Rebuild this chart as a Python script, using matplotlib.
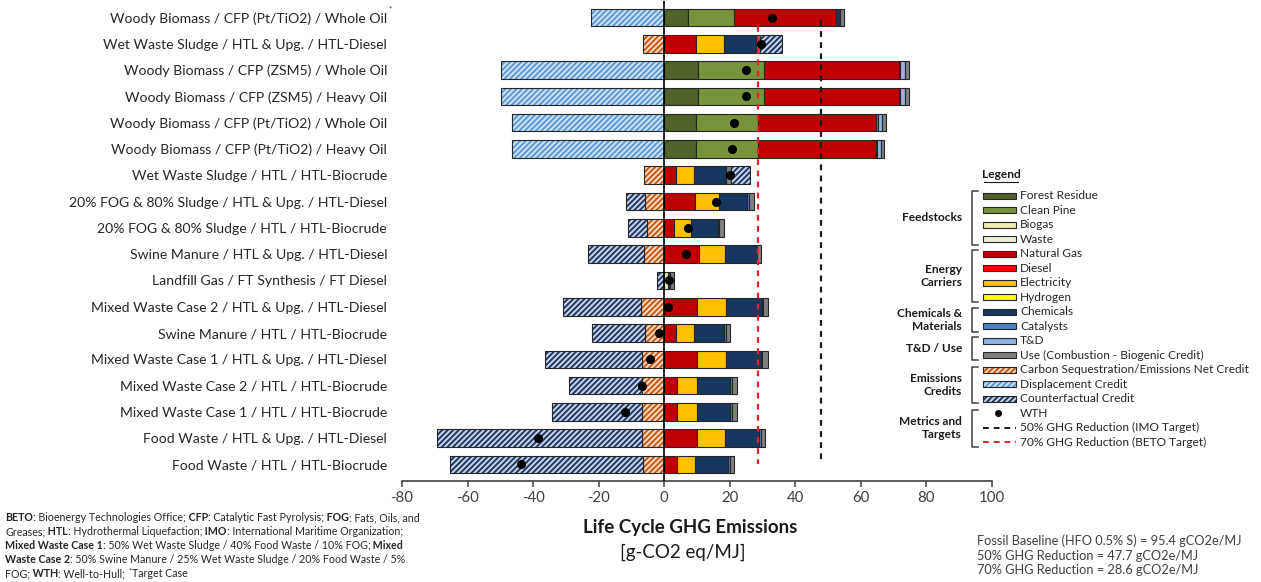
import numpy as np
import matplotlib
matplotlib.use("Agg")
import matplotlib.pyplot as plt
from matplotlib.patches import Rectangle

plt.rcParams['font.family'] = ['Lato', 'DejaVu Sans']
plt.rcParams['hatch.linewidth'] = 1.4
plt.rcParams['axes.unicode_minus'] = False

# pathways, top to bottom
labels = [
    'Woody Biomass / CFP (Pt/TiO2) / Whole Oil',
    'Wet Waste Sludge / HTL & Upg. / HTL-Diesel',
    'Woody Biomass / CFP (ZSM5) / Whole Oil',
    'Woody Biomass / CFP (ZSM5) / Heavy Oil',
    'Woody Biomass / CFP (Pt/TiO2) / Whole Oil',
    'Woody Biomass / CFP (Pt/TiO2) / Heavy Oil',
    'Wet Waste Sludge / HTL / HTL-Biocrude',
    '20% FOG & 80% Sludge / HTL & Upg. / HTL-Diesel',
    '20% FOG & 80% Sludge / HTL / HTL-Biocrude',
    'Swine Manure / HTL & Upg. / HTL-Diesel',
    'Landfill Gas / FT Synthesis / FT Diesel',
    'Mixed Waste Case 2 / HTL & Upg. / HTL-Diesel',
    'Swine Manure / HTL / HTL-Biocrude',
    'Mixed Waste Case 1 / HTL & Upg. / HTL-Diesel',
    'Mixed Waste Case 2 / HTL / HTL-Biocrude',
    'Mixed Waste Case 1 / HTL / HTL-Biocrude',
    'Food Waste / HTL & Upg. / HTL-Diesel',
    'Food Waste / HTL / HTL-Biocrude',
]

# emission contributions, g-CO2 eq/MJ
forest_residue = [7.3, 0, 10.3, 10.3, 9.8, 9.8, 0, 0, 0, 0, 0, 0, 0, 0, 0, 0, 0, 0]
clean_pine     = [14.1, 0, 20.2, 20.2, 18.8, 18.8, 0, 0, 0, 0, 0, 0, 0, 0, 0, 0, 0, 0]
biogas         = [0, 0, 0, 0, 0, 0, 0, 0, 0, 0, 1.2, 0, 0, 0, 0, 0, 0, 0]
waste          = [0, 0, 0, 0, 0, 0, 0, 0, 0, 0, 0, 0, 0, 0, 0, 0, 0, 0]
natural_gas    = [30.9, 9.8, 41.0, 41.0, 36.0, 36.0, 3.7, 9.3, 3.1, 9.9, 0, 10.1, 3.6, 10.1, 3.9, 3.9, 9.9, 3.8]
diesel         = [0, 0, 0, 0, 0, 0, 0, 0, 0, 0.6, 0, 0, 0, 0, 0, 0, 0, 0]
electricity    = [0, 8.3, 0, 0, 0, 0, 5.5, 7.5, 5.0, 8.1, 0, 8.8, 5.4, 8.7, 6.2, 6.2, 8.5, 5.7]
hydrogen       = [0, 0, 0, 0, 0, 0, 0, 0, 0, 0, 0, 0, 0, 0, 0, 0, 0, 0]
chemicals      = [1.3, 9.8, 0, 0, 0, 0, 9.6, 8.6, 8.2, 9.8, 0.5, 10.9, 9.2, 10.7, 10.1, 10.1, 10.6, 10.0]
catalysts      = [0, 0, 0.4, 0.4, 0.5, 0.4, 0, 0.5, 0.4, 0, 0, 0.4, 0.5, 0.4, 0.5, 0.5, 0.5, 0.5]
t_and_d        = [0, 0, 1.6, 1.6, 1.3, 1.0, 0, 0, 0, 0, 0, 0, 0, 0, 0, 0, 0, 0]
use            = [1.3, 1.4, 1.2, 1.2, 1.2, 1.2, 1.5, 1.5, 1.4, 1.2, 1.4, 1.5, 1.5, 1.8, 1.5, 1.5, 1.3, 1.3]
carbon_seq     = [0, -6.4, 0, 0, 0, 0, -6.1, -5.8, -5.3, -6.3, 0, -7.0, -6.0, -6.9, -6.7, -6.7, -6.9, -6.4]
displacement   = [-22.4, 0, -49.8, -49.8, -46.4, -46.4, 0, 0, 0, 0, 0, 0, 0, 0, 0, 0, 0, 0]
counterfactual = [0, 6.7, 0, 0, 0, 0, 5.8, -5.9, -5.8, -17.0, -2.1, -24.0, -16.0, -29.5, -22.5, -27.5, -62.5, -59.1]
wth            = [32.8, 29.6, 24.9, 24.9, 21.2, 20.8, 20.1, 15.8, 7.2, 6.6, 1.5, 1.0, -1.5, -4.4, -6.7, -11.9, -38.6, -43.8]

imo_target = 47.7
beto_target = 28.6

stack_parts = [
    ('Forest Residue', forest_residue, '#4F6228'),
    ('Clean Pine', clean_pine, '#77933C'),
    ('Biogas', biogas, '#F1EDB0'),
    ('Waste', waste, '#EAF0DC'),
    ('Natural Gas', natural_gas, '#C00000'),
    ('Diesel', diesel, '#FF0000'),
    ('Electricity', electricity, '#FFC000'),
    ('Hydrogen', hydrogen, '#FFFF00'),
    ('Chemicals', chemicals, '#17375E'),
    ('Catalysts', catalysts, '#4F81BD'),
    ('T&D', t_and_d, '#8DB4E2'),
    ('Use (Combustion - Biogenic Credit)', use, '#7F7F7F'),
]
credit_styles = {
    'Carbon Sequestration/Emissions Net Credit': ('#F8D9C4', '#C55A11'),
    'Displacement Credit': ('#CFE1F4', '#5B9BD5'),
    'Counterfactual Credit': ('#C9D3E8', '#1F3864'),
}

EDGE = '#262626'
BAR_H = 0.67
y = np.arange(len(labels))

fig = plt.figure(figsize=(12.61, 5.82), dpi=100)
ax = fig.add_axes([402 / 1261, 1 - 481 / 582, 590 / 1261, 480 / 582])


def plain(vals, left, color):
    vals = np.asarray(vals, float)
    m = vals != 0
    ax.barh(y[m], vals[m], left=left[m], height=BAR_H, color=color,
            edgecolor=EDGE, linewidth=0.8, zorder=2)


def hatched(vals, left, face, stripe):
    vals = np.asarray(vals, float)
    m = vals != 0
    ax.barh(y[m], vals[m], left=left[m], height=BAR_H, color=face,
            edgecolor=stripe, hatch='//////', linewidth=0, zorder=2)
    ax.barh(y[m], vals[m], left=left[m], height=BAR_H, fill=False,
            edgecolor=EDGE, linewidth=0.8, zorder=2)


# positive contributions stacked from zero
left = np.zeros(len(y))
for _, vals, color in stack_parts:
    plain(vals, left, color)
    left += np.asarray(vals, float)

cf = np.asarray(counterfactual, float)
cf_pos = np.where(cf > 0, cf, 0)
cf_neg = np.where(cf < 0, cf, 0)
face, stripe = credit_styles['Counterfactual Credit']
hatched(cf_pos, left, face, stripe)

# credits stacked leftwards from zero
cs = np.asarray(carbon_seq, float)
face, stripe = credit_styles['Carbon Sequestration/Emissions Net Credit']
hatched(cs, np.zeros(len(y)), face, stripe)
face, stripe = credit_styles['Counterfactual Credit']
hatched(cf_neg, cs, face, stripe)
face, stripe = credit_styles['Displacement Credit']
hatched(displacement, cs + cf_neg, face, stripe)

ax.plot(wth, y, 'o', color='black', ms=5.5, zorder=6)
ax.axvline(0, color='black', lw=1.2, zorder=3)
ax.plot([imo_target, imo_target], [0.1, 17.0], color='#1A1A1A', lw=1.6,
        ls=(0, (2.6, 2.4)), zorder=5)
ax.plot([beto_target, beto_target], [0.33, 17.0], color='#E0242B', lw=1.6,
        ls=(0, (2.6, 2.4)), zorder=5)

ax.set_xlim(-80, 100)
ax.set_ylim(17.628, -0.628)
ax.set_xticks(range(-80, 101, 20))
ax.set_yticks(y)
ax.set_yticklabels(labels, fontsize=10.1, color='#262626')
ax.tick_params(axis='y', length=0, pad=10.8)
ax.tick_params(axis='x', direction='out', length=4, width=1.1, color='#404040',
               labelsize=10.8, labelcolor='#404040', pad=3)
for side in ['top', 'right', 'left']:
    ax.spines[side].set_visible(False)
ax.spines['bottom'].set_linewidth(1.2)
ax.spines['bottom'].set_color('#404040')

# overlay in pixel coordinates for the annotations
ov = fig.add_axes([0, 0, 1, 1], facecolor='none')
ov.set_xlim(0, 1261)
ov.set_ylim(582, 0)
ov.axis('off')

ov.text(389, 9, '*', fontsize=5.5, color='#262626', ha='left', va='center')

ov.text(690, 527, 'Life Cycle GHG Emissions', fontsize=13.5, fontweight='bold',
        ha='center', va='center', color='#1A1A1A')
ov.text(683, 552, '[g-CO2 eq/MJ]', fontsize=13.5, ha='center', va='center',
        color='#1A1A1A')

for i, line in enumerate(['Fossil Baseline (HFO 0.5% S) = 95.4 gCO2e/MJ',
                          '50% GHG Reduction = 47.7 gCO2e/MJ',
                          '70% GHG Reduction = 28.6 gCO2e/MJ']):
    ov.text(977, 541 + 14.5 * i, line, fontsize=9.2, color='#404040',
            ha='left', va='center')

# abbreviations block with bold keywords
notes = [
    [('BETO', 1), (': Bioenergy Technologies Office;', 0), (' CFP', 1),
     (': Catalytic Fast Pyrolysis;', 0), (' FOG', 1), (': Fats, Oils, and', 0)],
    [('Greases;', 0), (' HTL', 1), (': Hydrothermal Liquefaction;', 0), (' IMO', 1),
     (': International Maritime Organization;', 0)],
    [('Mixed Waste Case 1', 1), (': 50% Wet Waste Sludge / 40% Food Waste / 10% FOG;', 0),
     (' Mixed', 1)],
    [('Waste Case 2', 1), (': 50% Swine Manure / 25% Wet Waste Sludge / 20% Food Waste / 5%', 0)],
    [('FOG;', 0), (' WTH', 1), (': Well-to-Hull;', 0), ('*', 2), ('Target Case', 0)],
]
renderer = fig.canvas.get_renderer()
for i, runs in enumerate(notes):
    x = 5
    yb = 521 + 14.1 * i
    for txt, kind in runs:
        if kind == 2:
            x += 3
            t = ov.text(x, yb - 4, txt, fontsize=5.5, color='#262626', va='baseline')
        else:
            t = ov.text(x, yb, txt, fontsize=7.7, color='#262626', va='baseline',
                        fontweight='bold' if kind == 1 else 'normal')
        x += t.get_window_extent(renderer).width

# legend
ov.text(1001, 175, 'Legend', fontsize=8.6, fontweight='bold', ha='center',
        va='center', color='#1A1A1A')
ov.plot([984, 1018], [181.5, 181.5], color='#1A1A1A', lw=0.8)

entry_y = 195.7 + 14.5 * np.arange(18)
k = 0
for name, _, color in stack_parts:
    ov.add_patch(Rectangle((983, entry_y[k] - 3.2), 33, 6.4, facecolor=color,
                           edgecolor=EDGE, lw=0.8))
    ov.text(1020, entry_y[k], name, fontsize=8.6, va='center', color='#262626')
    k += 1
for name, (face, stripe) in credit_styles.items():
    ov.add_patch(Rectangle((983, entry_y[k] - 3.2), 33, 6.4, facecolor=face,
                           edgecolor=stripe, hatch='//////', lw=0))
    ov.add_patch(Rectangle((983, entry_y[k] - 3.2), 33, 6.4, fill=False,
                           edgecolor=EDGE, lw=0.8))
    ov.text(1020, entry_y[k], name, fontsize=8.6, va='center', color='#262626')
    k += 1
ov.plot([998], [entry_y[k]], 'o', color='black', ms=4)
ov.text(1020, entry_y[k], 'WTH', fontsize=8.6, va='center', color='#262626')
ov.plot([983, 1016], [entry_y[k + 1]] * 2, color='#1A1A1A', lw=1.4, ls=(0, (3, 2.5)))
ov.text(1020, entry_y[k + 1], '50% GHG Reduction (IMO Target)', fontsize=8.6,
        va='center', color='#262626')
ov.plot([983, 1016], [entry_y[k + 2]] * 2, color='#E0242B', lw=1.4, ls=(0, (3, 2.5)))
ov.text(1020, entry_y[k + 2], '70% GHG Reduction (BETO Target)', fontsize=8.6,
        va='center', color='#262626')

groups = [
    ('Feedstocks', 190.7, 245.0),
    ('Energy\nCarriers', 250.0, 301.7),
    ('Chemicals &\nMaterials', 308.0, 331.7),
    ('T&D / Use', 337.3, 360.0),
    ('Emissions\nCredits', 366.7, 403.3),
    ('Metrics and\nTargets', 410.0, 446.7),
]
for name, y0, y1 in groups:
    ov.plot([978, 972, 972, 978], [y0, y0, y1, y1], color='#404040', lw=1.1)
    ov.text(962, (y0 + y1) / 2, name, fontsize=8.6, fontweight='bold', ha='right',
            va='center', linespacing=1.25, color='#1A1A1A')

fig.savefig('out.png', dpi=100)
